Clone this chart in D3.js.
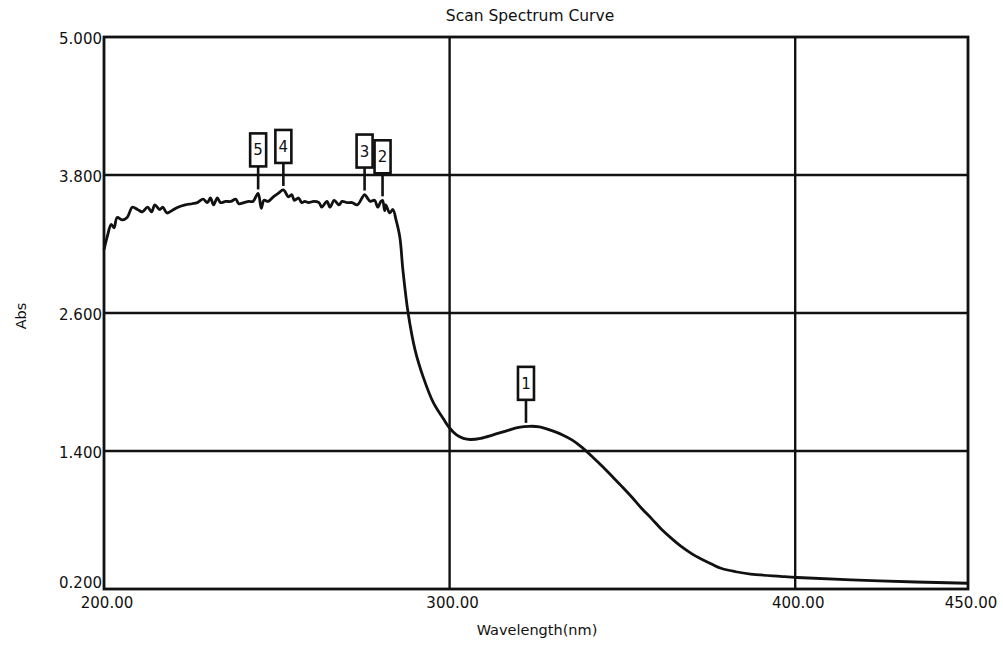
<!DOCTYPE html>
<html>
<head>
<meta charset="utf-8">
<script src="https://cdn.jsdelivr.net/npm/d3@7"></script>
<style>
  body { margin: 0; background: #fff; }
  svg text { font-family: "DejaVu Sans", Verdana, sans-serif; fill: #111; }
</style>
</head>
<body>
<div class="chart"></div>
<script>
// wavelength (nm) and absorbance
const wavelength = [
  200.0, 200.9, 202.1, 202.9, 203.8, 205.3, 206.7, 208.2, 209.7, 211.1,
  212.6, 213.8, 214.7, 216.1, 217.0, 218.2, 219.6, 221.4, 223.5, 225.5,
  227.0, 228.7, 229.9, 230.8, 231.7, 232.8, 233.7, 235.2, 236.7, 238.1,
  239.0, 240.5, 241.9, 243.1, 244.6, 245.5, 246.3, 247.5, 249.0, 250.4,
  251.9, 253.4, 254.3, 255.1, 256.3, 257.2, 258.1, 259.2, 260.7, 262.2,
  263.0, 264.5, 265.4, 266.6, 268.0, 268.9, 270.4, 271.8, 273.3, 275.4,
  276.2, 277.1, 278.3, 279.2, 280.1, 280.6, 281.2, 281.5, 282.7, 283.6,
  284.5, 285.6, 286.5, 288.0, 290.0, 292.4, 295.3, 298.2, 300.0, 302.0,
  304.0, 306.0, 309.0, 312.6, 316.9, 320.0, 323.0, 326.0, 329.8, 332.7,
  335.5, 338.4, 341.3, 344.1, 347.0, 349.9, 352.7, 355.6, 358.5, 361.3,
  364.2, 367.0, 369.9, 372.8, 375.6, 378.5, 382.8, 387.1, 395.7, 400.6,
  424.4, 450.0
];
const absorbance = [
  3.15, 3.26, 3.37, 3.34, 3.43, 3.41, 3.43, 3.52, 3.50, 3.48,
  3.52, 3.48, 3.54, 3.50, 3.52, 3.47, 3.49, 3.52, 3.54, 3.55,
  3.56, 3.59, 3.56, 3.60, 3.54, 3.60, 3.56, 3.57, 3.57, 3.59,
  3.55, 3.56, 3.57, 3.57, 3.64, 3.51, 3.58, 3.57, 3.61, 3.64,
  3.67, 3.61, 3.63, 3.58, 3.60, 3.56, 3.57, 3.56, 3.57, 3.56,
  3.52, 3.57, 3.52, 3.58, 3.54, 3.57, 3.56, 3.56, 3.54, 3.63,
  3.60, 3.57, 3.58, 3.52, 3.57, 3.58, 3.49, 3.54, 3.47, 3.50,
  3.41, 3.26, 2.97, 2.60, 2.28, 2.04, 1.82, 1.68, 1.60, 1.54,
  1.51, 1.50, 1.51, 1.54, 1.58, 1.605, 1.615, 1.61, 1.575, 1.54,
  1.495, 1.43, 1.35, 1.27, 1.18, 1.09, 1.00, 0.90, 0.81, 0.72,
  0.64, 0.57, 0.51, 0.46, 0.42, 0.38, 0.35, 0.33, 0.31, 0.30,
  0.27, 0.25
];

const peakLabels = ['1', '2', '3', '4', '5'];
const peakNm = [322.1, 280.6, 275.4, 251.9, 244.6];
const peakAbs = [1.61, 3.58, 3.63, 3.67, 3.64];

const xTicks = [200, 300, 400, 450];
const yTicks = [0.2, 1.4, 2.6, 3.8, 5.0];

const config = {
  width: 1003,
  height: 645,
  left: 104,
  right: 968,
  top: 37,
  bottom: 589
};

const svg = d3.select('.chart')
  .append('svg')
  .attr('width', config.width)
  .attr('height', config.height);

const x = d3.scaleLinear().domain([200, 450]).range([config.left, config.right]);
const y = d3.scaleLinear().domain([0.2, 5.0]).range([config.bottom, config.top]);

// grid
svg.append('g')
  .selectAll('line')
  .data(xTicks.slice(1, -1))
  .enter()
  .append('line')
  .attr('x1', d => x(d)).attr('x2', d => x(d))
  .attr('y1', config.top).attr('y2', config.bottom)
  .attr('stroke', '#111').attr('stroke-width', 2.4);

svg.append('g')
  .selectAll('line')
  .data(yTicks.slice(1, -1))
  .enter()
  .append('line')
  .attr('x1', config.left).attr('x2', config.right)
  .attr('y1', d => y(d)).attr('y2', d => y(d))
  .attr('stroke', '#111').attr('stroke-width', 2.4);

// frame
svg.append('rect')
  .attr('x', config.left).attr('y', config.top)
  .attr('width', config.right - config.left)
  .attr('height', config.bottom - config.top)
  .attr('fill', 'none').attr('stroke', '#111').attr('stroke-width', 2.8);

// tick labels
svg.append('g')
  .selectAll('text')
  .data(yTicks)
  .enter()
  .append('text')
  .attr('x', config.left - 2)
  .attr('y', d => d === 0.2 ? y(d) - 1 : y(d) + 7)
  .attr('text-anchor', 'end')
  .attr('font-size', 15)
  .text(d => d3.format('.3f')(d));

svg.append('g')
  .selectAll('text')
  .data(xTicks)
  .enter()
  .append('text')
  .attr('x', d => x(d) + 3)
  .attr('y', config.bottom + 19)
  .attr('text-anchor', 'middle')
  .attr('font-size', 15)
  .text(d => d3.format('.2f')(d));

// titles
svg.append('text')
  .attr('x', 530).attr('y', 21)
  .attr('text-anchor', 'middle')
  .attr('font-size', 15.5)
  .text('Scan Spectrum Curve');

svg.append('text')
  .attr('x', 537).attr('y', 635)
  .attr('text-anchor', 'middle')
  .attr('font-size', 14.5)
  .text('Wavelength(nm)');

svg.append('text')
  .attr('transform', 'translate(26, 316) rotate(-90)')
  .attr('text-anchor', 'middle')
  .attr('font-size', 14.5)
  .text('Abs');

// spectrum curve
const points = wavelength.map((w, i) => [w, absorbance[i]]);
const line = d3.line()
  .x(d => x(d[0]))
  .y(d => y(d[1]))
  .curve(d3.curveCatmullRom.alpha(0.5));

svg.append('path')
  .datum(points)
  .attr('d', line)
  .attr('fill', 'none')
  .attr('stroke', '#111')
  .attr('stroke-width', 2.8)
  .attr('stroke-linejoin', 'round');

// peak markers
const peaks = svg.append('g')
  .selectAll('g')
  .data(peakLabels.map((l, i) => ({ label: l, nm: peakNm[i], abs: peakAbs[i] })))
  .enter()
  .append('g')
  .attr('transform', d => `translate(${x(d.nm)}, ${y(d.abs)})`);

peaks.append('line')
  .attr('x1', 0).attr('x2', 0)
  .attr('y1', -4).attr('y2', -27)
  .attr('stroke', '#111').attr('stroke-width', 2.6);

peaks.append('rect')
  .attr('x', -8).attr('y', -60)
  .attr('width', 16).attr('height', 33)
  .attr('fill', '#fff')
  .attr('stroke', '#111').attr('stroke-width', 2.6);

peaks.append('text')
  .attr('x', 0).attr('y', -38)
  .attr('text-anchor', 'middle')
  .attr('font-size', 15)
  .text(d => d.label);
</script>
</body>
</html>
